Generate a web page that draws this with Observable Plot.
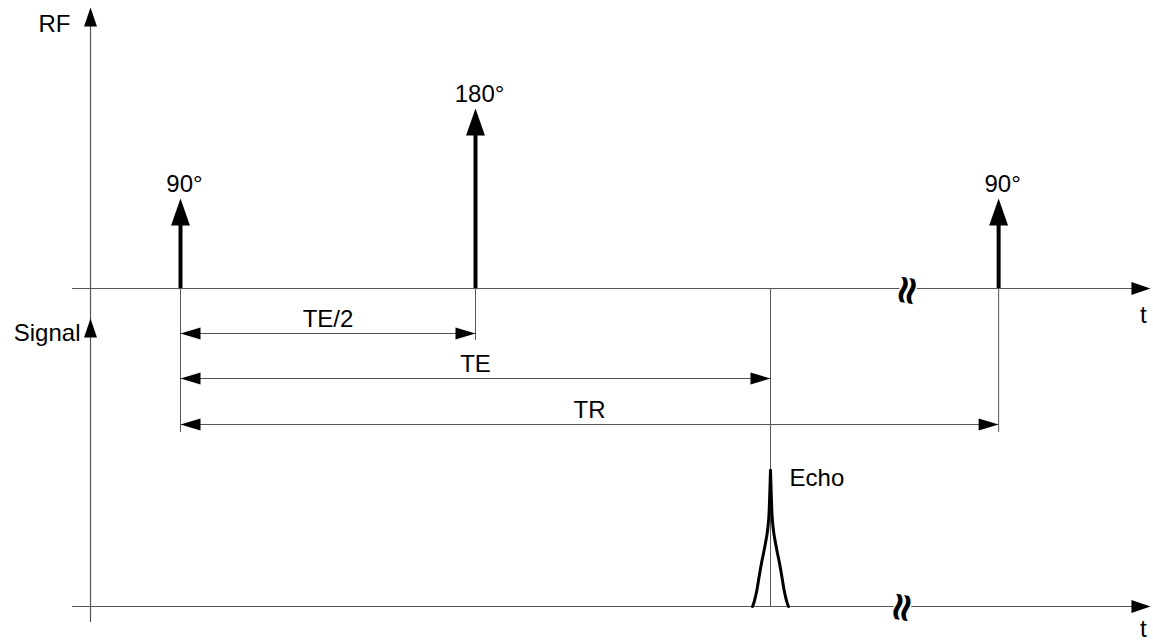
<!DOCTYPE html>
<html><head><meta charset="utf-8">
<script src="https://cdn.jsdelivr.net/npm/d3@7"></script>
<script src="https://cdn.jsdelivr.net/npm/@observablehq/plot@0.6"></script>
<style>body{margin:0;background:#fff;}</style>
</head><body><div id="chart"></div>
<script>
// ---- data (time in ms, TE = 30 ms) ----
const pulseTimes = [0, 15, 41.6];
const pulseAngles = [90, 180, 90];
const pulseLabels = ["90°", "180°", "90°"];
const intervalLabels = ["TE/2", "TE", "TR"];
const intervalEnds = [15, 30, 41.6];
const echoTime = 30;
const echoOffsets = [0.915, 0.84, 0.763, 0.686, 0.61, 0.534, 0.442, 0.356, 0.27, 0.178, 0.127, 0.076, 0.051, 0.025, 0];
const echoAmps = [0, 4, 10, 17, 26, 35, 45, 53, 62, 72, 80, 92, 105, 120, 136];
const echoLabel = "Echo";
const axisNames = ["RF", "Signal"];
const timeLabel = "t";
const breakTimes = [36.97, 36.7];

// ---- layout ----
const RF_BASE = 318, SIG_BASE = 0;
const intervalRows = [273, 228, 182];
const AXIS_X = -4.576, AXIS_X0 = -5.49, AXIS_X1 = 49.32;
const LINE = "#555";

function head(ratio) {
  return {draw(ctx, size) {
    const L = Math.sqrt(size / Math.PI), w = L * ratio;
    ctx.moveTo(0, 0); ctx.lineTo(-w / 2, L); ctx.lineTo(w / 2, L); ctx.closePath();
  }};
}
const axisHead = head(0.68), pulseHead = head(0.7), dimHead = head(0.6);

const pulses = pulseTimes.map((t, i) => ({t, a: pulseAngles[i], label: pulseLabels[i]}));
const intervals = intervalLabels.map((label, i) => ({label, start: 0, end: intervalEnds[i], row: intervalRows[i]}));
const echo = [
  ...echoOffsets.map((d, i) => ({t: echoTime - d, a: echoAmps[i], side: "L"})),
  ...echoOffsets.map((d, i) => ({t: echoTime + d, a: echoAmps[i], side: "R"})).reverse()
];

const guides = [
  {t: pulseTimes[0], y2: intervalRows[2] - 8},
  {t: pulseTimes[1], y2: intervalRows[0] - 7},
  {t: echoTime, y2: SIG_BASE},
  {t: pulseTimes[2], y2: intervalRows[2] - 8}
];

const font = "'Liberation Sans', Arial, sans-serif";
const chart = Plot.plot({
  width: 1153, height: 643,
  marginLeft: 0, marginRight: 0, marginTop: 0, marginBottom: 0,
  x: {domain: [-9.153, 49.475], axis: null},
  y: {domain: [-37, 606], axis: null},
  style: {fontFamily: font, background: "#fff", color: "#000"},
  marks: [
    // axes
    Plot.ruleX([AXIS_X], {y1: -16, y2: 590, stroke: LINE, strokeWidth: 1.2}),
    Plot.ruleY([RF_BASE, SIG_BASE], {x1: AXIS_X0, x2: AXIS_X1 - 0.5, stroke: LINE, strokeWidth: 1.2}),
    Plot.dot([599, 288], {x: () => AXIS_X, y: d => d, symbol: axisHead, r: 19, fill: "#000", stroke: "none"}),
    Plot.dot([RF_BASE, SIG_BASE], {x: () => AXIS_X1, y: d => d, symbol: axisHead, r: 19, rotate: 90, fill: "#000", stroke: "none"}),
    // guide lines
    Plot.ruleX(guides, {x: "t", y1: RF_BASE, y2: "y2", stroke: LINE, strokeWidth: 1}),
    // break marks
    Plot.text(breakTimes, {x: d => d, y: (d, i) => i === 0 ? RF_BASE - 2 : SIG_BASE - 1, text: () => "≈", rotate: 100,
      fontSize: 40, fontWeight: "bold", fontFamily: "DejaVu Sans", fill: "#000", stroke: "#fff", strokeWidth: 3}),
    // pulses
    Plot.ruleX(pulses, {x: "t", y1: RF_BASE, y2: d => RF_BASE + d.a - 24, stroke: "#000", strokeWidth: 4}),
    Plot.dot(pulses, {x: "t", y: d => RF_BASE + d.a, symbol: pulseHead, r: 27, fill: "#000", stroke: "none"}),
    Plot.text(pulses, {x: "t", y: d => RF_BASE + d.a + 14, text: "label", dx: 4, fontSize: 24, fill: "#000", lineAnchor: "middle"}),
    // intervals
    Plot.ruleY(intervals, {y: "row", x1: "start", x2: "end", stroke: LINE, strokeWidth: 1.2}),
    Plot.dot(intervals, {x: "start", y: "row", symbol: dimHead, r: 20, rotate: -90, fill: "#000", stroke: "none"}),
    Plot.dot(intervals, {x: "end", y: "row", symbol: dimHead, r: 20, rotate: 90, fill: "#000", stroke: "none"}),
    Plot.text(intervals, {x: d => (d.start + d.end) / 2, y: d => d.row + 13.7, text: "label", fontSize: 24, fill: "#000", lineAnchor: "middle"}),
    // echo
    Plot.line(echo, {x: "t", y: d => SIG_BASE + d.a, z: "side", curve: "catmull-rom", stroke: "#000", strokeWidth: 3}),
    Plot.text([echoLabel], {x: () => echoTime + 0.97, y: () => 128, text: d => d, textAnchor: "start", fontSize: 24, fill: "#000", lineAnchor: "middle"}),
    // axis labels
    Plot.text(axisNames, {x: (d, i) => i === 0 ? -5.593 : -5.085, y: (d, i) => i === 0 ? 581.7 : 273, text: d => d, textAnchor: "end", fontSize: 24, fill: "#000", lineAnchor: "middle"}),
    Plot.text([RF_BASE, SIG_BASE], {x: () => 48.96, y: d => d === RF_BASE ? 291 : -23, text: () => timeLabel, fontSize: 24, fill: "#000", lineAnchor: "middle"})
  ]
});
document.getElementById("chart").appendChild(chart);
</script></body></html>
